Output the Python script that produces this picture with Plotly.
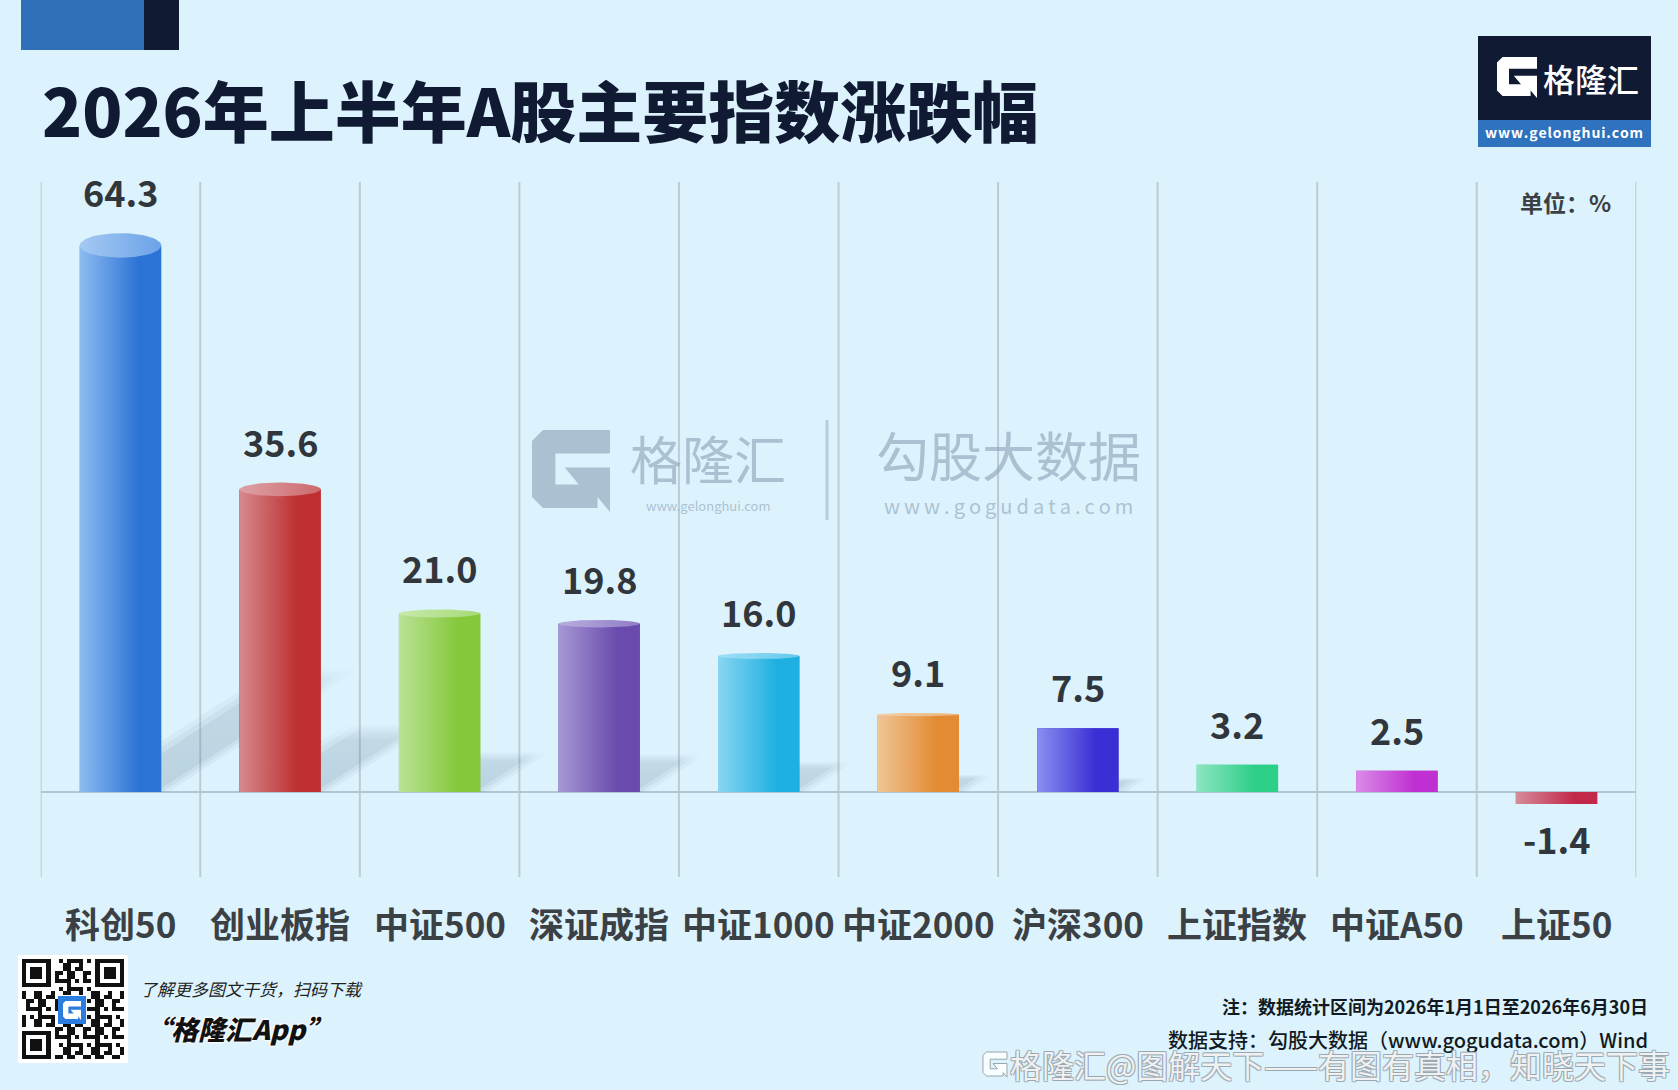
import numpy as np
import plotly.graph_objects as go

W, H = 1678, 1090

# ---------------- data ----------------
categories = ["科创50", "创业板指", "中证500", "深证成指", "中证1000",
              "中证2000", "沪深300", "上证指数", "中证A50", "上证50"]
values = [64.3, 35.6, 21.0, 19.8, 16.0, 9.1, 7.5, 3.2, 2.5, -1.4]
value_labels = ["64.3", "35.6", "21.0", "19.8", "16.0", "9.1", "7.5", "3.2", "2.5", "-1.4"]
light_colors = ["#8dbcf0", "#d58a8f", "#b9e397", "#a698d5", "#88d6f2",
                "#efc596", "#8b8ff0", "#8ce5c1", "#d98be8", "#d58b99"]
dark_colors = ["#2c73d6", "#be2f2f", "#86c83b", "#6a4bad", "#1fb0e2",
               "#e38b34", "#3a2fd4", "#2ccf86", "#c02fd1", "#c2284a"]

title_text = "2026年上半年A股主要指数涨跌幅"
unit_text = "单位：%"
note_text = "注：数据统计区间为2026年1月1日至2026年6月30日"
source_text = "数据支持：勾股大数据（www.gogudata.com）Wind"

FONT = "Noto Sans CJK SC"
BG = "#dcf2fc"


def px(x):
    return x / W


def py(y):
    return 1 - y / H


def hex2rgb(h):
    h = h.lstrip("#")
    return tuple(int(h[i:i + 2], 16) for i in (0, 2, 4))


def mix(c1, c2, t):
    a, b = hex2rgb(c1), hex2rgb(c2)
    return "rgb(%d,%d,%d)" % tuple(round(a[k] + (b[k] - a[k]) * t) for k in range(3))


X_DOM = [40.7 / W, 1636.3 / W]
Y_DOM = [py(877), py(182)]
Y_RANGE = [-10, 71.76]
BAR_W = 0.51
HW = BAR_W / 2
n = len(categories)
xi = list(range(n))

fig = go.Figure()

# base bars
fig.add_trace(go.Bar(
    x=xi, y=values, width=BAR_W,
    marker=dict(color=dark_colors, line=dict(width=0)),
    customdata=categories, hovertemplate="%{customdata}: %{y}%<extra></extra>",
    showlegend=False,
))

shapes = []
annotations = []


def ann(x, y, text, size, color="#111a22", weight=400, xanchor="center", yanchor="middle",
        xref="paper", yref="paper", **fontkw):
    annotations.append(dict(x=x, y=y, xref=xref, yref=yref, text=text, showarrow=False,
                            xanchor=xanchor, yanchor=yanchor,
                            font=dict(family=FONT, size=size, color=color, weight=weight, **fontkw)))


# soft cast shadows (drawn first so the bars cover them)
for i, v in enumerate(values):
    if v >= 5:
        dx, dy = 0.0188 * v, 0.227 * v
        for a0, a1, op in [(-0.24, 0.3, 0.06), (-0.18, 0.26, 0.08), (-0.12, 0.22, 0.10)]:
            xs = [i + a0, i + a1, i + a1 + dx, i + a0 + dx, i + a0]
            ys = [0, 0, dy, dy, 0]
            fig.add_trace(go.Scatter(
                x=xs, y=ys, fill="toself", mode="lines", line=dict(width=0),
                fillgradient=dict(type="vertical",
                                  colorscale=[[0, "rgba(70,100,125,%f)" % op],
                                              [0.75, "rgba(70,100,125,%f)" % (op * 0.8)],
                                              [1, "rgba(70,100,125,0)"]]),
                hoverinfo="skip", showlegend=False,
            ))

# cylinder shading and tops
t = np.linspace(0, 2 * np.pi, 72)
for i, v in enumerate(values):
    lc, dc = light_colors[i], dark_colors[i]
    fig.add_trace(go.Scatter(
        x=[i - HW, i + HW, i + HW, i - HW, i - HW], y=[0, 0, v, v, 0],
        fill="toself", mode="lines", line=dict(width=0),
        fillgradient=dict(type="horizontal",
                          colorscale=[[0, lc], [0.72, dc], [1, dc]]),
        hoverinfo="skip", showlegend=False,
    ))
    top_edge = v
    if v >= 9:
        e = 0.0224 * v
        fig.add_trace(go.Scatter(
            x=list(i + HW * np.cos(t)), y=list(v + e * np.sin(t)),
            fill="toself", mode="lines", line=dict(width=0),
            fillgradient=dict(type="horizontal",
                              colorscale=[[0, mix(lc, "#ffffff", 0.2)],
                                          [1, mix(lc, dc, 0.35)]]),
            hoverinfo="skip", showlegend=False,
        ))
        top_edge = v + e
    if v >= 0:
        ann(i, top_edge, value_labels[i], 36, "#30363b", 700, xref="x", yref="y")
        annotations[-1]["yshift"] = 42
    else:
        ann(i, v, value_labels[i], 36, "#30363b", 700, xref="x", yref="y")
        annotations[-1]["yshift"] = -34
    ann(i, py(922), categories[i], 35, "#3b4045", 700, xref="x")

# vertical separators between categories
for k in range(n + 1):
    shapes.append(dict(type="line", xref="x", yref="paper", layer="below",
                       x0=k - 0.5, x1=k - 0.5, y0=Y_DOM[0], y1=Y_DOM[1],
                       line=dict(color="#bccbd4", width=2)))

# ---------------- decorations ----------------
shapes.append(dict(type="rect", xref="paper", yref="paper", x0=px(21), x1=px(144),
                   y0=py(50), y1=py(0), fillcolor="#2f70b8", line=dict(width=0)))
shapes.append(dict(type="rect", xref="paper", yref="paper", x0=px(144), x1=px(179),
                   y0=py(50), y1=py(0), fillcolor="#111a33", line=dict(width=0)))

ann(px(40), py(108), title_text, 66, "#101a33", 900, xanchor="left")

G_PTS = [(0.14, 0), (1, 0), (1, 0.3), (0.3, 0.3), (0.3, 0.7), (0.6, 0.7), (0.42, 0.48),
         (1, 0.48), (1, 1.05), (0.84, 0.86), (0.84, 1), (0.14, 1), (0, 0.86), (0, 0.14)]


def g_path(x0, y0, sw, sh):
    pts = ["%f,%f" % (px(x0 + a * sw), py(y0 + b * sh)) for a, b in G_PTS]
    return "M " + " L ".join(pts) + " Z"


# logo box
shapes.append(dict(type="rect", xref="paper", yref="paper", x0=px(1478), x1=px(1651),
                   y0=py(120), y1=py(36), fillcolor="#111a33", line=dict(width=0)))
shapes.append(dict(type="rect", xref="paper", yref="paper", x0=px(1478), x1=px(1651),
                   y0=py(147), y1=py(120), fillcolor="#2f72bd", line=dict(width=0)))
shapes.append(dict(type="path", xref="paper", yref="paper", path=g_path(1497, 57, 40, 39),
                   fillcolor="white", line=dict(width=0)))
ann(px(1591), py(78), "格隆汇", 32, "white", 500)
ann(px(1564), py(132), "\u200a".join("www.gelonghui.com"), 14, "white", 700)

ann(px(1565), py(202), unit_text, 23, "#3b4045", 700)

# center watermark
WM = "rgba(140,162,180,0.62)"
shapes.append(dict(type="path", xref="paper", yref="paper", path=g_path(532, 430, 78, 78),
                   fillcolor=WM, line=dict(width=0)))
ann(px(708), py(458), "格隆汇", 52, WM, 400)
ann(px(708), py(506), "www.gelonghui.com", 13, WM)
shapes.append(dict(type="line", xref="paper", yref="paper", x0=px(827), x1=px(827),
                   y0=py(520), y1=py(420), line=dict(color="rgba(160,178,192,0.6)", width=3)))
ann(px(1008), py(454), "勾股大数据", 53, WM, 400)
ann(px(1008), py(505), "\u2009".join("www.gogudata.com"), 20, WM)

# QR code block
shapes.append(dict(type="rect", xref="paper", yref="paper", x0=px(18), x1=px(128), layer="below",
                   y0=py(1063), y1=py(955), fillcolor="white", line=dict(width=0)))
N = 25
qr = np.zeros((N, N))
for r in range(N):
    for c in range(N):
        qr[r, c] = 1 if ((r * r * 7 + c * c * 3 + r * c * 5 + r + 2 * c) % 7) < 3 else 0


def finder(r0, c0):
    for r in range(-1, 8):
        for c in range(-1, 8):
            rr, cc = r0 + r, c0 + c
            if 0 <= rr < N and 0 <= cc < N:
                ring = max(abs(r - 3), abs(c - 3))
                qr[rr, cc] = 1 if ring in (0, 1, 3) else 0


finder(0, 0)
finder(0, N - 7)
finder(N - 7, 0)
qr[9:16, 9:16] = 0
fig.add_trace(go.Heatmap(z=qr, xaxis="x2", yaxis="y2", showscale=False, hoverinfo="skip",
                         colorscale=[[0, "white"], [1, "#111111"]], zmin=0, zmax=1))
shapes.append(dict(type="rect", xref="paper", yref="paper", x0=px(58), x1=px(86),
                   y0=py(1024), y1=py(996), fillcolor="#2b7de0", line=dict(width=0)))
shapes.append(dict(type="path", xref="paper", yref="paper", path=g_path(63, 1001, 18, 18),
                   fillcolor="white", line=dict(width=0)))

ann(px(138), py(988), "了解更多图文干货，扫码下载", 17, "#222222", 400, xanchor="left", style="italic")
ann(px(142), py(1028), "“格隆汇App”", 27, "#111111", 900, xanchor="left", style="italic",
    shadow="0 0 3px white, 0 0 3px white, 0 0 3px white")

# notes
ann(px(1650), py(1006), note_text, 18, "#111a22", 700, xanchor="right")
ann(px(1650), py(1039), source_text, 20, "#111a22", 500, xanchor="right")

# platform watermark
shapes.append(dict(type="path", xref="paper", yref="paper", path=g_path(983, 1052, 24, 24),
                   fillcolor="rgba(255,255,255,0.8)", line=dict(color="#9aa6ae", width=1)))
ann(px(1672), py(1064), "格隆汇@图解天下——有图有真相，知晓天下事", 32,
    "rgba(255,255,255,0.85)", 400, xanchor="right",
    shadow="1px 1px 0 #9aa6ae, -1px -1px 0 #9aa6ae, 1px -1px 0 #9aa6ae, -1px 1px 0 #9aa6ae")

fig.update_layout(
    width=W, height=H, margin=dict(l=0, r=0, t=0, b=0),
    paper_bgcolor=BG, plot_bgcolor=BG,
    showlegend=False, barmode="overlay",
    xaxis=dict(domain=X_DOM, range=[-0.5, n - 0.5], showgrid=False, zeroline=False,
               showticklabels=False, fixedrange=True),
    yaxis=dict(domain=Y_DOM, range=Y_RANGE, showgrid=False, zeroline=True,
               zerolinecolor="#b3c5d0", zerolinewidth=2, showticklabels=False, fixedrange=True),
    xaxis2=dict(domain=[px(22), px(124)], range=[-0.5, N - 0.5], visible=False, fixedrange=True),
    yaxis2=dict(domain=[py(1059), py(959)], range=[N - 0.5, -0.5], visible=False, fixedrange=True),
    shapes=shapes, annotations=annotations,
)

fig.write_html("out.html")
